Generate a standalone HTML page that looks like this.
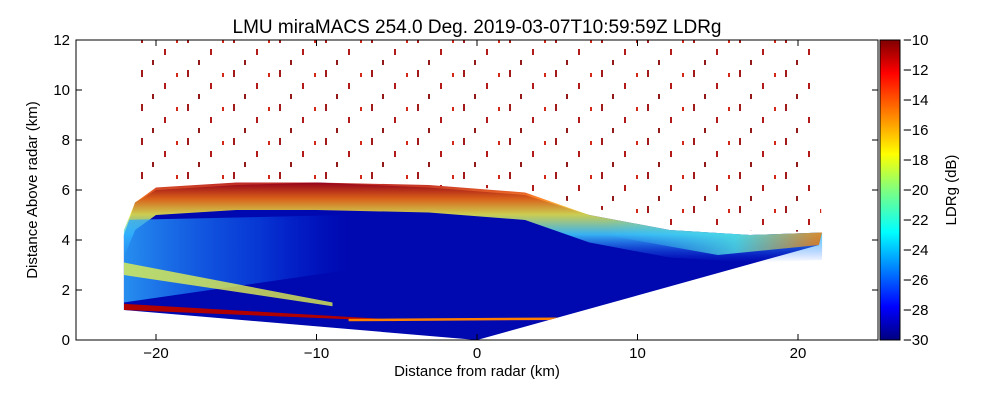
<!DOCTYPE html>
<html><head><meta charset="utf-8"><style>
html,body{margin:0;padding:0;background:#fff;}
svg{display:block;font-family:"Liberation Sans",sans-serif;}
</style></head><body>
<svg id="chart" width="1000" height="400" viewBox="0 0 1000 400">
<defs>
<linearGradient id="jet" x1="0" y1="1" x2="0" y2="0">
<stop offset="0" stop-color="#00007f"/><stop offset="0.11" stop-color="#0000ff"/>
<stop offset="0.36" stop-color="#00ffff"/><stop offset="0.5" stop-color="#7fff7f"/>
<stop offset="0.62" stop-color="#ffff00"/><stop offset="0.89" stop-color="#ff0000"/>
<stop offset="1" stop-color="#7f0000"/></linearGradient>
<linearGradient id="rim" x1="0" y1="0" x2="0" y2="1">
<stop offset="0" stop-color="#b00000"/><stop offset="0.2" stop-color="#ff7000"/>
<stop offset="0.4" stop-color="#f0f040"/><stop offset="0.65" stop-color="#40d0ff"/>
<stop offset="1" stop-color="#2060ff" stop-opacity="0"/></linearGradient>
<linearGradient id="leftfade" x1="0" y1="0" x2="1" y2="0">
<stop offset="0" stop-color="#30b0ff" stop-opacity="0.8"/><stop offset="0.6" stop-color="#1070ff" stop-opacity="0.45"/>
<stop offset="1" stop-color="#0040ff" stop-opacity="0"/></linearGradient>
<linearGradient id="rightrim" x1="0" y1="0" x2="1" y2="0">
<stop offset="0" stop-color="#40e0ff" stop-opacity="0"/><stop offset="0.6" stop-color="#50e0e0"/>
<stop offset="1" stop-color="#ff8000"/></linearGradient>
<pattern id="speck" width="46" height="34" patternUnits="userSpaceOnUse">
<rect x="3" y="2" width="2" height="7" fill="#990000"/><rect x="26" y="15" width="2" height="6" fill="#aa0000"/>
<rect x="14" y="26" width="2" height="5" fill="#880000"/><rect x="38" y="5" width="2" height="4" fill="#cc1000"/>
</pattern>
<clipPath id="plotclip"><rect x="76" y="40" width="802" height="300"/></clipPath>
<clipPath id="fanclip"><polygon id="fanclipPoly" points=""/></clipPath>
</defs>
<text x="477" y="33" font-size="19" text-anchor="middle">LMU miraMACS 254.0 Deg. 2019-03-07T10:59:59Z  LDRg</text>
<g id="plot" clip-path="url(#plotclip)">
<g id="base"></g>
<g id="overlay" clip-path="url(#fanclip)"></g>
</g>
<rect x="76" y="40" width="802" height="300" fill="none" stroke="#000"/>
<g id="axes"></g>
<rect x="880" y="40" width="20" height="300" fill="url(#jet)" stroke="#000"/>
<text x="37" y="190" font-size="15" text-anchor="middle" transform="rotate(-90 37 190)">Distance Above radar  (km)</text>
<text x="477" y="376" font-size="15" text-anchor="middle">Distance from radar (km)</text>
<text x="956" y="190" font-size="15" text-anchor="middle" transform="rotate(-90 956 190)">LDRg (dB)</text>
</svg>
<script>
const xTicks=[-20,-10,0,10,20];
const yTicks=[0,2,4,6,8,10,12];
const cbTicks=[-10,-12,-14,-16,-18,-20,-22,-24,-26,-28,-30];
const fanOutline=[[-22,1.2],[-22,4.2],[-21.3,5.5],[-20,6.0],[-15,6.2],[-10,6.3],[-3,6.1],[3,5.8],[7,5.0],[12,4.4],[17,4.2],[21.5,4.3],[21.3,3.8],[0,0]];
const rimEdge=[[-22,4.4],[-21.3,5.5],[-20,6.1],[-15,6.3],[-10,6.3],[-3,6.2],[3,5.9],[7,5.0],[12,4.4],[17,4.2],[21.5,4.3]];
const leftZone=[[-22,1.5],[-22,4.8],[-8,5.0],[-8,2.8]];
const yellowStripe=[[-22,2.6],[-22,3.1],[-9,1.5],[-9,1.35]];
const redStripe=[[-22,1.2],[-22,1.45],[-6,0.85],[-5,0.75]];
const orangeLine=[[-8,0.85],[-8,0.75],[5,0.8],[5,0.9]];
const rightZone=[[8,4.8],[21.5,4.3],[21.3,3.8],[15,3.4],[8,4.2]];
const speckZone=[[-21.5,6.2],[-21,12],[21,12],[21.5,4.3],[12,4.5],[3,6.0],[-10,6.4]];
const NS='http://www.w3.org/2000/svg';
const X=k=>477+16.05*k, Y=h=>340-25*h;
const pts=a=>a.map(p=>X(p[0]).toFixed(1)+','+Y(p[1]).toFixed(1)).join(' ');
const base=document.getElementById('base'), overlay=document.getElementById('overlay'), axes=document.getElementById('axes');
document.getElementById('fanclipPoly').setAttribute('points',pts(fanOutline));
function poly(g,a,fill,name,op){const p=document.createElementNS(NS,'polygon');p.setAttribute('points',pts(a));p.setAttribute('fill',fill);if(op)p.setAttribute('opacity',op);


g.appendChild(p);return p;}
poly(base,speckZone,'url(#speck)','speckle-region','0.9');
poly(base,fanOutline,'#0008b0','fan-base');
const rimPoly=rimEdge.concat(rimEdge.slice().reverse().map(p=>[p[0],p[1]-1.1]));
poly(overlay,leftZone,'url(#leftfade)','left-cyan-zone');
poly(overlay,yellowStripe,'#e0f050','yellow-stripe','0.8');
poly(overlay,redStripe,'#b00000','red-stripe');
poly(overlay,orangeLine,'#ff8000','orange-line');
poly(overlay,rightZone,'url(#rightrim)','right-rim-zone','0.8');
poly(base,rimPoly,'url(#rim)','rim-band','0.85');
function txt(x,y,s,anchor,name){const t=document.createElementNS(NS,'text');t.setAttribute('x',x);t.setAttribute('y',y);t.setAttribute('font-size','15');t.setAttribute('text-anchor',anchor);t.textContent=s;


axes.appendChild(t);}
function line(x1,y1,x2,y2){const l=document.createElementNS(NS,'line');l.setAttribute('x1',x1);l.setAttribute('y1',y1);l.setAttribute('x2',x2);l.setAttribute('y2',y2);l.setAttribute('stroke','#000');


axes.appendChild(l);}
xTicks.forEach(v=>{line(X(v),340,X(v),334);line(X(v),40,X(v),46);txt(X(v),358,v<0?'\u2212'+(-v):String(v),'middle','x-tick-label');});
yTicks.forEach(v=>{line(76,Y(v),82,Y(v));line(878,Y(v),872,Y(v));txt(70,Y(v)+5,String(v),'end','y-tick-label');});
cbTicks.forEach(v=>{const y=40+(-10-v)/20*300;line(896,y,900,y);txt(903,y+5,'\u2212'+(-v),'start','colorbar-tick-label');});
</script>
</body></html>
